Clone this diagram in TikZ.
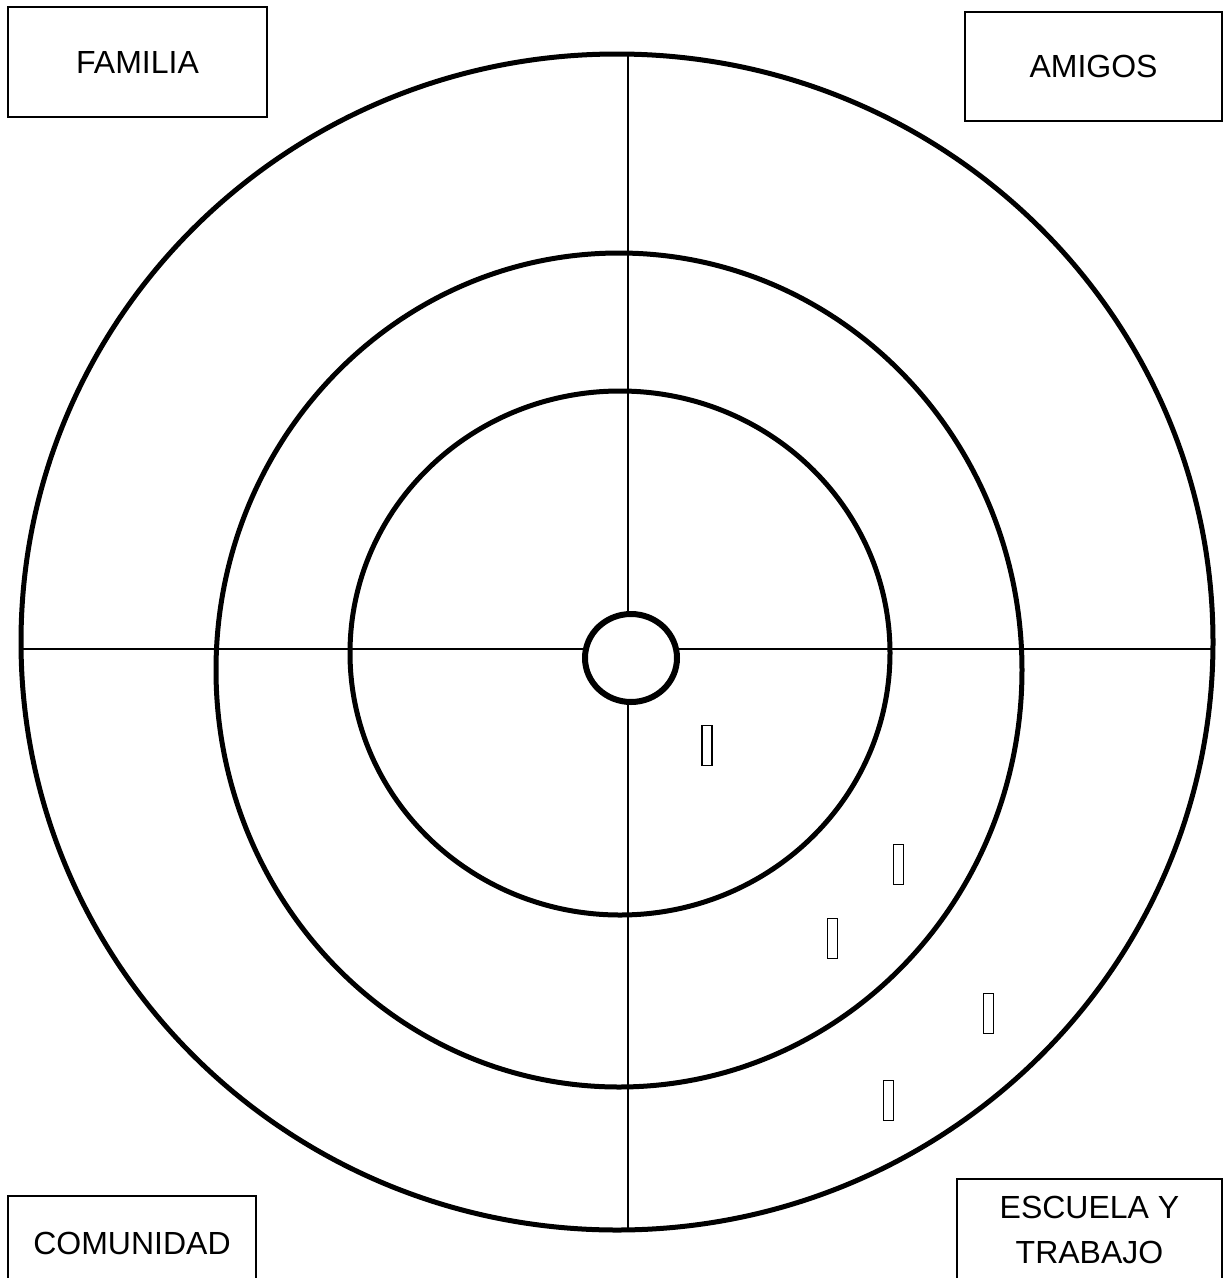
\documentclass[tikz,border=0pt]{standalone}
\usepackage{fontspec}
\setmainfont{Liberation Sans}
\usetikzlibrary{shapes.geometric}
\begin{document}
\begin{tikzpicture}[x=1pt,y=-1pt,
  ring/.style={line width=5pt},
  hub/.style={line width=6pt},
  axis/.style={line width=2pt},
  lbl/.style={draw, line width=1.5pt, inner sep=0pt, align=center,
    font=\fontsize{32}{45}\selectfont},
  tick/.style={draw, line width=1.5pt, inner sep=0pt, minimum width=10pt, minimum height=40pt}]
\useasboundingbox (0,0) rectangle (1225,1278);
\fill[white] (0,0) rectangle (1225,1278);
% rings
\draw[ring] (617,642) ellipse [x radius=596, y radius=588];
\draw[ring] (619,670) ellipse [x radius=403, y radius=417];
\draw[ring] (620,653) ellipse [x radius=270, y radius=262];
% axes
\coordinate (top) at (628,55);
\coordinate (bot) at (628,1230);
\coordinate (lft) at (20,649);
\coordinate (rgt) at (1213,649);
\draw[axis] (top) -- (bot);
\draw[axis] (lft) -- (rgt);
\node[draw, ellipse, hub, fill=white, minimum width=92pt, minimum height=88pt, inner sep=0pt] (c) at (631,658) {};
% small marks
\node[tick] (t1) at (707,745.5) {};
\node[tick] (t2) at (898.5,864.5) {};
\node[tick] (t3) at (832.5,938.5) {};
\node[tick] (t4) at (988.5,1013.5) {};
\node[tick] (t5) at (888.5,1100.5) {};
% label boxes
\node[lbl, minimum width=259pt, minimum height=110pt] (fam) at (137.5,62) {FAMILIA};
\node[lbl, minimum width=257pt, minimum height=109pt] (ami) at (1093.5,66.5) {AMIGOS};
\node[lbl, minimum width=248pt, minimum height=94pt] (com) at (132,1243) {COMUNIDAD};
\node[lbl, minimum width=265pt, minimum height=102pt] (esc) at (1089.5,1230) {ESCUELA Y\\TRABAJO};
\end{tikzpicture}
\end{document}
